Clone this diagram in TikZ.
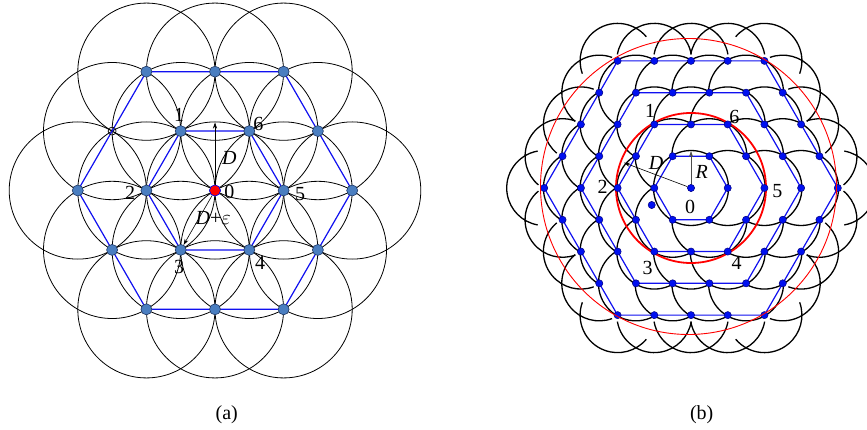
\documentclass[tikz,border=0pt]{standalone}
\usepackage{fontspec}
\setmainfont{Liberation Serif}
\usetikzlibrary{arrows.meta}
\definecolor{nodeA}{HTML}{4A7EC0}
\definecolor{nodeAo}{HTML}{1F3864}
\definecolor{hexblue}{HTML}{1010F0}
\definecolor{nodeB}{HTML}{0010F0}
\begin{document}
\begin{tikzpicture}[x=1pt,y=1pt,
  acirc/.style={draw=black,line width=0.8pt},
  bcirc/.style={draw=black,fill=white,line width=1.3pt},
  barc/.style={draw=black,line width=1.3pt},
  hexa/.style={draw=hexblue,line width=1.2pt},
  anode/.style={circle,fill=nodeA,draw=nodeAo,line width=0.6pt,minimum size=11pt,inner sep=0pt},
  bnode/.style={circle,fill=nodeB,draw=blue!50!black,line width=0.5pt,minimum size=7.2pt,inner sep=0pt},
  lab/.style={font=\fontsize{20}{20}\selectfont,inner sep=0pt},
  captxt/.style={font=\fontsize{20}{20}\selectfont,inner sep=0pt},
  arr/.style={-{Stealth[length=6pt,width=4pt]},line width=0.6pt}
]
\useasboundingbox (0,0) rectangle (867,429);
\fill[white] (0,0) rectangle (867,429);

% ---------------- (a) ----------------
\def\da{68.6}\def\ha{59.41}
\foreach \q in {-2,...,2}{
  \foreach \r in {-2,...,2}{
    \pgfmathtruncatemacro{\sv}{max(abs(\q),abs(\r),abs(\q+\r))}
    \ifnum\sv<3
      \pgfmathtruncatemacro{\qi}{\q+2}\pgfmathtruncatemacro{\ri}{\r+2}
      \coordinate (A\qi\ri) at ({215+\da*(\q+0.5*\r)},{238.5-\ha*\r});
      \draw[acirc] (A\qi\ri) circle (\da);
    \fi
  }
}
\draw[hexa] (A20)--(A40)--(A42)--(A24)--(A04)--(A02)--cycle;
\draw[hexa] (A21)--(A31)--(A32)--(A23)--(A13)--(A12)--cycle;
\foreach \q in {-2,...,2}{
  \foreach \r in {-2,...,2}{
    \pgfmathtruncatemacro{\sv}{max(abs(\q),abs(\r),abs(\q+\r))}
    \ifnum\sv<3
      \pgfmathtruncatemacro{\qi}{\q+2}\pgfmathtruncatemacro{\ri}{\r+2}
      \ifnum\qi\ri=11
        \node[circle,draw=black,line width=0.7pt,minimum size=8pt,inner sep=0pt] (n\qi\ri) at (A\qi\ri) {};
      \else
        \node[anode] (n\qi\ri) at (A\qi\ri) {};
      \fi
    \fi
  }
}
\node[anode,fill=red,draw=blue] (n22c) at (A22) {};
\coordinate (DtipA) at (215,306.5);
\draw[arr] (n22c) -- (DtipA);
\draw[arr] (n22c) -- (n13);
\node[lab] (la1) at (179,314) {1};
\node[lab] (la6) at (258.3,305) {6};
\node[lab] (la2) at (130,236.3) {2};
\node[lab] (la0) at (229.3,237.3) {0};
\node[lab] (la5) at (300,235) {5};
\node[lab] (la3) at (179,162.3) {3};
\node[lab] (la4) at (260,165.7) {4};
\node[lab] (laD) at (229.3,270.7) {\textit{D}};
\node[lab] (laDe) at (213.3,210.7) {\textit{D}+$\varepsilon$};
\node[captxt] (capa) at (226.7,14) {(a)};

% ---------------- (b) ----------------
\def\ab{36.7}\def\hb{31.78}\def\rb{37.5}
% outer ring: outward arcs only
\foreach \q in {-4,...,4}{
  \foreach \r in {-4,...,4}{
    \pgfmathtruncatemacro{\sv}{max(abs(\q),abs(\r),abs(\q+\r))}
    \ifnum\sv=4
      \pgfmathtruncatemacro{\qi}{\q+4}\pgfmathtruncatemacro{\ri}{\r+4}
      \coordinate (B\qi\ri) at ({691+\ab*(\q+0.5*\r)},{241-\hb*\r});
      \pgfmathsetmacro{\ph}{atan2(-\hb*\r,\ab*(\q+0.5*\r))}
      \pgfmathsetmacro{\th}{abs(\ph-60*round(\ph/60))<1 ? 60*round(\ph/60) : 30+60*floor(\ph/60)}
      \draw[barc] (B\qi\ri) ++({\th-80}:\rb) arc[start angle={\th-80}, end angle={\th+80}, radius=\rb];
    \fi
  }
}
\foreach \ring in {3,2,1,0}{
  \foreach \q in {-4,...,4}{
    \foreach \r in {-4,...,4}{
      \pgfmathtruncatemacro{\sv}{max(abs(\q),abs(\r),abs(\q+\r))}
      \ifnum\sv=\ring
        \pgfmathtruncatemacro{\qi}{\q+4}\pgfmathtruncatemacro{\ri}{\r+4}
        \coordinate (B\qi\ri) at ({691+\ab*(\q+0.5*\r)},{241-\hb*\r});
        \draw[bcirc] (B\qi\ri) circle (\rb);
      \fi
    }
  }
}
\draw[red,line width=1.8pt] (B44) circle (75);
\foreach \n in {1,2,3,4}{
  \pgfmathtruncatemacro{\p}{4+\n}\pgfmathtruncatemacro{\m}{4-\n}
  \draw[hexa] (B\p4)--(B\p\m)--(B4\m)--(B\m4)--(B\m\p)--(B4\p)--cycle;
}
\foreach \q in {-4,...,4}{
  \foreach \r in {-4,...,4}{
    \pgfmathtruncatemacro{\sv}{max(abs(\q),abs(\r),abs(\q+\r))}
    \ifnum\sv<5
      \pgfmathtruncatemacro{\qi}{\q+4}\pgfmathtruncatemacro{\ri}{\r+4}
      \node[bnode] (m\qi\ri) at (B\qi\ri) {};
    \fi
  }
}
\node[bnode] (stray) at (651.7,224) {};
\coordinate (DtipB) at (624,266.3);
\coordinate (RtipB) at (691,278);
\draw[arr] (m44) -- (DtipB);
\draw[arr,draw=black!70,fill=black!70] (m44) -- (RtipB);
\draw[red,line width=0.9pt] (688.5,242.5) circle (148);
\node[lab] (lb1) at (650,318) {1};
\node[lab] (lb6) at (734.3,312.3) {6};
\node[lab] (lb2) at (602.7,241.7) {2};
\node[lab] (lb5) at (777.3,238.3) {5};
\node[lab] (lb3) at (647.7,160.7) {3};
\node[lab] (lb4) at (736.7,165.7) {4};
\node[lab] (lb0) at (690,221.7) {0};
\node[lab] (lbR) at (701.7,257.3) {\textit{R}};
\node[lab] (lbD) at (656,265.7) {\textit{D}};
\node[captxt] (capb) at (701.7,14) {(b)};
\end{tikzpicture}
\end{document}
